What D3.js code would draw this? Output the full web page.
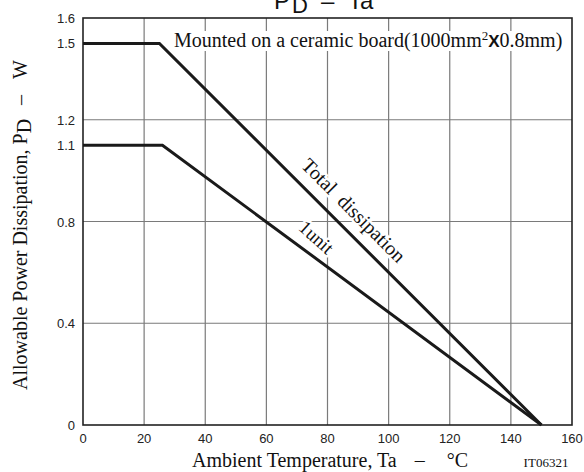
<!DOCTYPE html>
<html><head><meta charset="utf-8">
<script src="https://cdn.jsdelivr.net/npm/d3@7"></script>
<style>
html,body{margin:0;padding:0;background:#fff;}
svg{display:block;}
</style></head>
<body>
<svg id="c" width="584" height="472"></svg>
<script>
// ---- data ----
const totalTemp = [0, 25, 150];
const totalPd   = [1.5, 1.5, 0];
const unitTemp  = [0, 26, 150];
const unitPd    = [1.1, 1.1, 0];
const xTicks = [0, 20, 40, 60, 80, 100, 120, 140, 160];
const yTickLabels = [0, 0.4, 0.8, 1.1, 1.2, 1.5, 1.6];
const yGrid = [0.4, 0.8, 1.2];
const xGrid = [20, 40, 60, 80, 100, 120, 140];

const svg = d3.select("#c");
const sans = "'Liberation Sans', Arial, sans-serif";
const serif = "'Liberation Serif', 'Times New Roman', serif";

const x = d3.scaleLinear().domain([0, 160]).range([83, 572]);
const y = d3.scaleLinear().domain([0, 1.6]).range([425, 18]);

// grid
svg.append("g").selectAll("line").data(xGrid).join("line")
  .attr("x1", d => x(d)).attr("x2", d => x(d))
  .attr("y1", y(1.6)).attr("y2", y(0))
  .attr("stroke", "#7a7a7a").attr("stroke-width", 1.2);
svg.append("g").selectAll("line").data(yGrid).join("line")
  .attr("x1", x(0)).attr("x2", x(160))
  .attr("y1", d => y(d)).attr("y2", d => y(d))
  .attr("stroke", "#7a7a7a").attr("stroke-width", 1.2);

// annotation with white background
const ann = svg.append("text")
  .attr("x", 174).attr("y", 47)
  .attr("font-family", serif).attr("font-size", 20).attr("fill", "#111");
ann.append("tspan").text("Mounted on a ceramic board(1000mm");
ann.append("tspan").attr("font-size", 13).attr("dy", -7).text("2");
ann.append("tspan").attr("dy", 7).attr("font-family", sans).attr("font-weight", "bold").attr("font-size", 17).text("X");
ann.append("tspan").text("0.8mm)");
const bb = ann.node().getBBox();
svg.insert("rect", "text").attr("x", bb.x - 2).attr("y", bb.y + 3)
  .attr("width", bb.width + 3).attr("height", bb.height - 4).attr("fill", "#fff");

// frame
svg.append("rect").attr("x", x(0)).attr("y", y(1.6))
  .attr("width", x(160) - x(0)).attr("height", y(0) - y(1.6))
  .attr("fill", "none").attr("stroke", "#222").attr("stroke-width", 1.6);

// data lines
const line = d3.line().x(d => x(d[0])).y(d => y(d[1]));
svg.append("path").datum(totalTemp.map((t, i) => [t, totalPd[i]]))
  .attr("d", line).attr("fill", "none").attr("stroke", "#1a1a1a").attr("stroke-width", 3);
svg.append("path").datum(unitTemp.map((t, i) => [t, unitPd[i]]))
  .attr("d", line).attr("fill", "none").attr("stroke", "#1a1a1a").attr("stroke-width", 3);

// line labels
svg.append("text").attr("transform", `translate(${x(87.4) + 2},${y(0.751) - 22}) rotate(45)`)
  .attr("text-anchor", "middle").attr("dominant-baseline", "middle")
  .attr("font-family", serif).attr("font-size", 20).attr("fill", "#111")
  .attr("stroke", "#fff").attr("stroke-width", 5).attr("paint-order", "stroke")
  .attr("xml:space", "preserve")
  .text("Total  dissipation");
svg.append("text").attr("transform", `translate(${x(75.9)},${y(0.657) - 19}) rotate(42)`)
  .attr("text-anchor", "middle").attr("dominant-baseline", "middle")
  .attr("font-family", serif).attr("font-size", 19).attr("fill", "#111")
  .attr("stroke", "#fff").attr("stroke-width", 5).attr("paint-order", "stroke")
  .text("1unit");

// y tick labels
svg.append("g").selectAll("text").data(yTickLabels).join("text")
  .attr("x", 75).attr("y", d => y(d) + 5)
  .attr("text-anchor", "end").attr("font-family", sans).attr("font-size", 13).attr("fill", "#222")
  .text(d => d === 0 ? "0" : d3.format(".1f")(d));

// x tick labels
svg.append("g").selectAll("text").data(xTicks).join("text")
  .attr("x", d => x(d)).attr("y", 443)
  .attr("text-anchor", "middle").attr("font-family", sans).attr("font-size", 13).attr("fill", "#222")
  .text(d => d);

// title
const title = svg.append("g").attr("font-family", sans).attr("font-size", 24).attr("fill", "#111");
title.append("text").attr("x", 274).attr("y", 9).text("P");
title.append("text").attr("x", 292).attr("y", 13).attr("font-size", 22).text("D");
title.append("text").attr("x", 321).attr("y", 9).text("–");
title.append("text").attr("x", 348).attr("y", 9).text("Ta");

// x axis title
const xt = svg.append("text").attr("x", 192).attr("y", 467)
  .attr("font-family", serif).attr("font-size", 20).attr("fill", "#111");
xt.append("tspan").text("Ambient Temperature, Ta");
xt.append("tspan").attr("dx", 18).text("–");
xt.append("tspan").attr("dx", 22).text("°C");
svg.append("text").attr("x", 546).attr("y", 467).attr("text-anchor", "middle")
  .attr("font-family", serif).attr("font-size", 13).attr("fill", "#111")
  .text("IT06321");

// y axis title
const yt = svg.append("text").attr("transform", "translate(27,390) rotate(-90)")
  .attr("font-family", serif).attr("font-size", 20).attr("fill", "#111");
yt.append("tspan").text("Allowable Power Dissipation, P");
yt.append("tspan").attr("dy", 4).text("D");
yt.append("tspan").attr("dy", -4).attr("dx", 14).text("–");
yt.append("tspan").attr("dx", 16).text("W");
</script>
</body></html>
